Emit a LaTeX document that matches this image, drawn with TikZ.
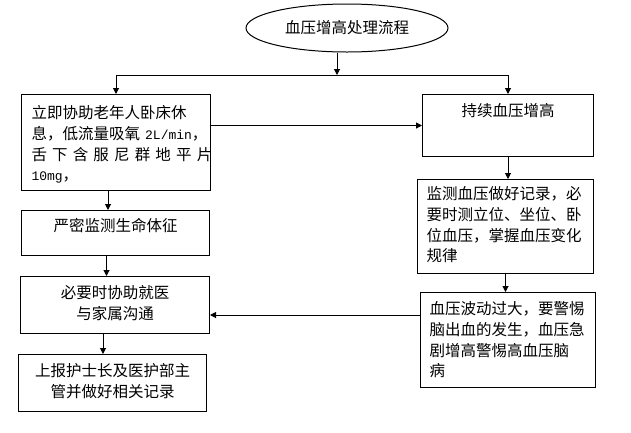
\documentclass[tikz,border=0pt]{standalone}
\usepackage{fontspec}
\setmainfont{Noto Sans CJK SC}
\newfontfamily\unitfont{Liberation Mono}
\newcommand{\unittxt}[1]{{\unitfont\fontsize{13pt}{20pt}\selectfont #1}}
\usetikzlibrary{arrows.meta,shapes.geometric}

\begin{document}
\begin{tikzpicture}[x=1pt, y=-1pt, line width=1pt, >={Triangle[length=6pt,width=6pt]},
		box/.style={draw, anchor=north west, inner xsep=9pt, inner ysep=0pt, font=\fontsize{15.5pt}{20.8pt}\selectfont}]
		\useasboundingbox (0,0) rectangle (631,432);

		\node[draw, ellipse, minimum width=202pt, minimum height=48pt, inner sep=0pt, font=\fontsize{15.5pt}{20pt}\selectfont] (title) at (347,28) {血压增高处理流程};

		\node[box, inner xsep=10pt, text width=169pt, align=left, text height=24pt, text depth=72pt] (rest) at (21,94) {立即协助老年人卧床休\\息，低流量吸氧~\unittxt{2L/min}，\\舌~下~含~服~尼~群~地~平~片\\\unittxt{10mg}，};
		\node[box, text width=153pt, align=center, text height=22pt, text depth=40pt] (rising) at (422,94) {持续血压增高};
		\node[box, text width=158pt, align=left, text height=20pt, text depth=74pt] (monitor) at (417,179) {监测血压做好记录，必\\要时测立位、坐位、卧\\位血压，掌握血压变化\\规律};
		\node[box, text width=157pt, align=left, text height=22pt, text depth=73pt] (warning) at (420,292) {血压波动过大，要警惕\\脑出血的发生，血压急\\剧增高警惕高血压脑\\病};
		\node[box, text width=170pt, align=center, text height=21pt, text depth=24pt] (vitals) at (21,210) {严密监测生命体征};
		\node[box, text width=171pt, align=center, text height=22pt, text depth=35pt] (referral) at (20,276) {必要时协助就医\\与家属沟通};
		\node[box, text width=170pt, align=center, text height=22pt, text depth=35pt] (report) at (18,354) {上报护士长及医护部主\\管并做好相关记录};

		\coordinate (split) at (337,75);

		\draw[color=black, ->] (title.south -| split) -- (split);
		\draw[color=black] (rest.north |- split) -- (rising.north |- split);
		\draw[color=black, ->] (rest.north |- split) -- (rest.north);
		\draw[color=black, ->] (rising.north |- split) -- (rising.north);
		\draw[color=black, ->] (rest.east |- rising.west) -- (rising.west);
		\draw[color=black, ->] (rising.south) -- (rising.south |- monitor.north);
		\draw[color=black, ->] (monitor.south) -- (monitor.south |- warning.north);
		\draw[color=black, ->] ([yshift=-10pt]warning.west |- referral.east) -- ([yshift=-10pt]referral.east);
		\draw[color=black, ->] ([xshift=-8pt]rest.south) -- ([xshift=-8pt]rest.south |- vitals.north);
		\draw[color=black, ->] ([xshift=-9pt]vitals.south) -- ([xshift=-9pt]vitals.south |- referral.north);
		\draw[color=black, ->] ([xshift=-12pt]referral.south) -- ([xshift=-12pt]referral.south |- report.north);
	\end{tikzpicture}
\end{document}
